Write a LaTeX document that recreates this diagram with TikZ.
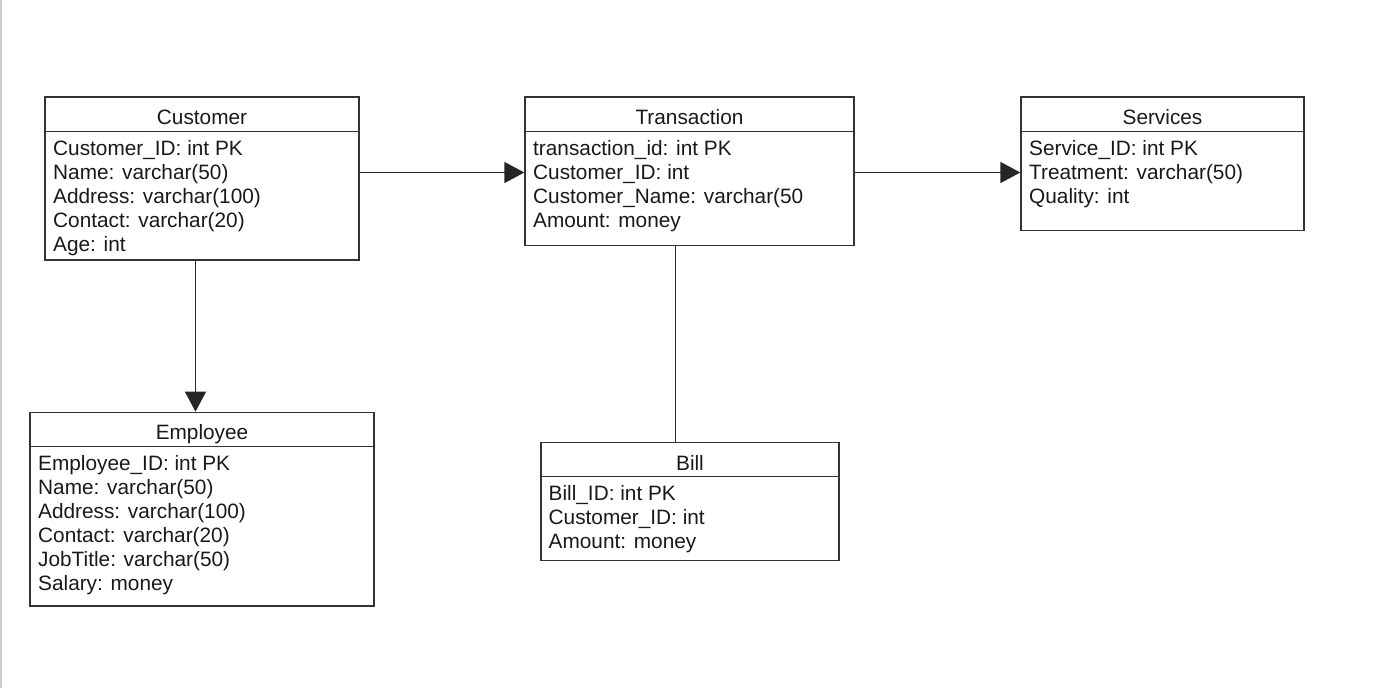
\documentclass[tikz,border=0pt]{standalone}
\usepackage{fontspec}
\setmainfont{Liberation Sans}
\usetikzlibrary{arrows.meta}

\tikzset{
  tbl/.style={draw=black!80, line width=1.3pt, rectangle, inner sep=0pt},
  sepline/.style={draw=black!80, line width=1.3pt},
  ttl/.style={anchor=base, inner sep=0pt, font=\fontsize{20.8}{24}\selectfont, text=black!90},
  attr/.style={anchor=base west, inner sep=0pt, align=left, font=\fontsize{20.8}{24}\selectfont, text=black!90},
  rel/.style={draw=black!85, line width=1.3pt},
  relarrow/.style={rel, -{Triangle[length=20pt,width=21pt]}},
}

\begin{document}
\begin{tikzpicture}[x=1pt,y=-1pt]
  \useasboundingbox (0,0) rectangle (1393,688);
  % Left page edge
  \draw[black!20, line width=1.5pt] (0.75,0) -- (0.75,688);

  % Customer table (attribute node sits on its last baseline)
  \node[tbl, minimum width=314pt, minimum height=163pt] (cust) at (202,178.5) {};
  \draw[sepline] ([yshift=-35pt]cust.north west) -- ([yshift=-35pt]cust.north east);
  \node[ttl] (custT) at (202,124.2) {Customer};
  \node[attr] (custA) at (53,251.5) {Customer\_ID: int PK\\Name: varchar(50)\\Address: varchar(100)\\Contact: varchar(20)\\Age: int};

  % Transaction table
  \node[tbl, minimum width=329pt, minimum height=148.7pt] (trans) at (689.5,171.35) {};
  \draw[sepline] ([yshift=-35pt]trans.north west) -- ([yshift=-35pt]trans.north east);
  \node[ttl] (transT) at (689.5,124.2) {Transaction};
  \node[attr] (transA) at (533,227.5) {transaction\_id: int PK\\Customer\_ID: int\\Customer\_Name: varchar(50\\Amount: money};

  % Services table
  \node[tbl, minimum width=283pt, minimum height=133.3pt] (serv) at (1162.5,163.65) {};
  \draw[sepline] ([yshift=-35pt]serv.north west) -- ([yshift=-35pt]serv.north east);
  \node[ttl] (servT) at (1162.5,124.2) {Services};
  \node[attr] (servA) at (1029,203.5) {Service\_ID: int PK\\Treatment: varchar(50)\\Quality: int};

  % Employee table
  \node[tbl, minimum width=344pt, minimum height=193.7pt] (emp) at (202,509.15) {};
  \draw[sepline] ([yshift=-35pt]emp.north west) -- ([yshift=-35pt]emp.north east);
  \node[ttl] (empT) at (202,439.8) {Employee};
  \node[attr] (empA) at (38,590.8) {Employee\_ID: int PK\\Name: varchar(50)\\Address: varchar(100)\\Contact: varchar(20)\\JobTitle: varchar(50)\\Salary: money};

  % Bill table
  \node[tbl, minimum width=298pt, minimum height=118.4pt] (bill) at (690,501.5) {};
  \draw[sepline] ([yshift=-35pt]bill.north west) -- ([yshift=-35pt]bill.north east);
  \node[ttl] (billT) at (690,470.8) {Bill};
  \node[attr] (billA) at (548.5,548.8) {Bill\_ID: int PK\\Customer\_ID: int\\Amount: money};

  % Relations
  \coordinate (relY) at (0,172.5);
  \draw[relarrow] (cust.east |- relY) -- (trans.west |- relY);
  \draw[relarrow] (trans.east |- relY) -- (serv.west |- relY);
  \draw[relarrow] ([xshift=-6.5pt]cust.south) -- ([xshift=-6.5pt]cust.south |- emp.north);
  \draw[rel] ([xshift=-14pt]trans.south) -- ([xshift=-14pt]trans.south |- bill.north);

\end{tikzpicture}
\end{document}
